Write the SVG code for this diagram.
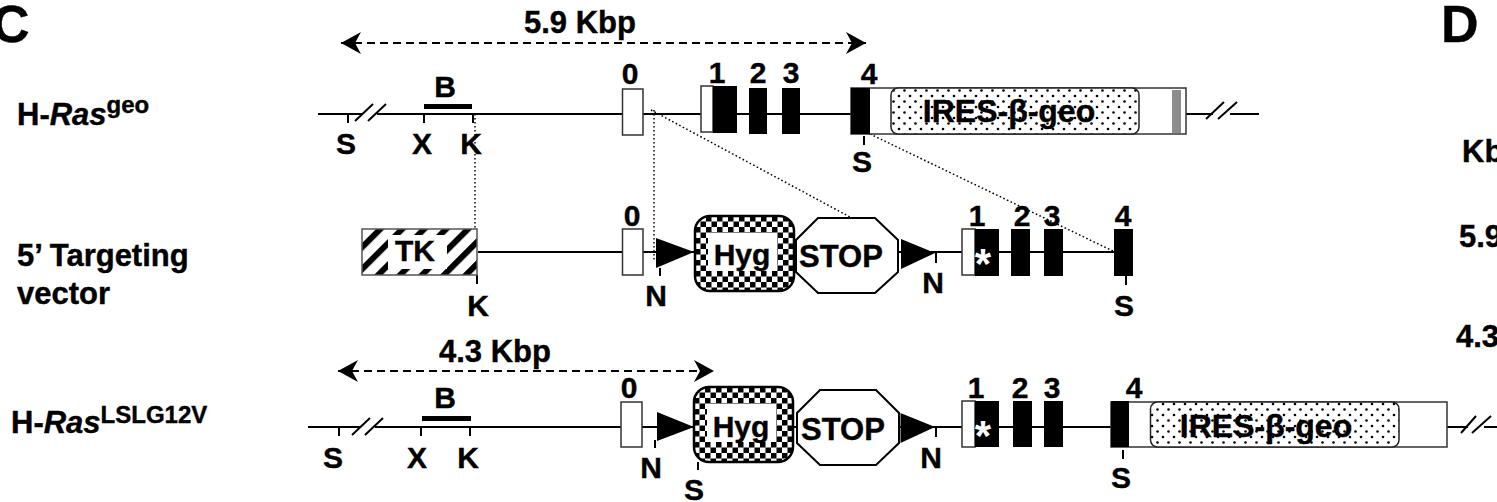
<svg xmlns="http://www.w3.org/2000/svg" width="1497" height="502" viewBox="0 0 1497 502">
<style>
text{font-family:"Liberation Sans",Arial,sans-serif;font-weight:700;fill:#000;font-size:30px;stroke:#000;stroke-width:.4}
.m{text-anchor:middle}
.big{font-size:52px}
.l{font-size:31px}
.ir{font-size:32px}
.sup{font-size:24px}
.it{font-style:italic}
text.star{fill:#fff;stroke:none;font-size:42px;text-anchor:middle}
.ln{stroke:#000;stroke-width:2;fill:none}
.dot{stroke:#000;stroke-width:1.5;stroke-dasharray:1.6 2.4;fill:none}
.dash{stroke:#000;stroke-width:2;stroke-dasharray:8 5;fill:none;marker-start:url(#ah);marker-end:url(#ah)}
.wb{fill:#fff;stroke:#333;stroke-width:1.5}
.ex{fill:#000}
.oct{fill:#fff;stroke:#000;stroke-width:2}
.hygo{fill:url(#chk);stroke:#000;stroke-width:2.5}
.ires{fill:url(#dots);stroke:#222;stroke-width:1.5}
</style>
<defs>
<pattern id="chk" patternUnits="userSpaceOnUse" width="11" height="11"><rect width="11" height="11" fill="#fff"/><rect width="5.5" height="5.5" fill="#000"/><rect x="5.5" y="5.5" width="5.5" height="5.5" fill="#000"/></pattern>
<pattern id="dots" patternUnits="userSpaceOnUse" width="11" height="11"><rect width="11" height="11" fill="#fff"/><circle cx="2.5" cy="2.5" r="1.3" fill="#000"/><circle cx="8" cy="8" r="1.3" fill="#000"/></pattern>
<pattern id="hatch" patternUnits="userSpaceOnUse" width="15.500" height="15.500" patternTransform="rotate(45 362 229)"><rect width="15.500" height="15.500" fill="#fff"/><rect width="6" height="15.500" fill="#000"/></pattern>
<marker id="ah" markerUnits="userSpaceOnUse" markerWidth="22" markerHeight="24" refX="20" refY="11" orient="auto-start-reverse"><path d="M0,0L20,11L0,22L6,11Z" fill="#000"/></marker>
</defs>

<g id="connectors">
<path class="ln" d="M318,114H363M377,114H622M643,114H701M737,114H749M767,114H782M800,114H851M1186,114H1213M1230,114H1259"/>
<path class="ln" d="M355,121L373,104M368,121L386,104M1206,119L1224,102M1218,119L1237,102"/>
<path class="ln" d="M348,114V123M424,114V123M473,114V123M864,136V145"/>
<path class="ln" d="M478,252H622M643,252H796M898,252H962M1063,252H1114M999,252H1011M1030,252H1044"/>
<path class="ln" d="M477,275V284M660,268V276M936,253V263M1126,276V285"/>
<path class="ln" d="M308,427H360M375,427H621M642,427H694M793,427H797M899,427H962M999,427H1013M1032,427H1044M1063,427H1111M1447,427H1468M1484,427H1497"/>
<path class="ln" d="M352,435L370,418M365,435L383,418M1461,433L1476,416M1472,433L1491,416"/>
<path class="ln" d="M339,427V436M421,427V436M470,427V436M655,440V448M698,462V470M936,428V437M1123,450V459"/>
<path d="M424,106.500H472M422,418.500H471" stroke="#000" stroke-width="5" fill="none"/>
<path class="dot" d="M475,114V229M654,110V262M651,110L850,217M870,134L1115,252"/>
<path class="dash" d="M341,43H866"/>
<path class="dash" d="M338,371H714"/>
</g>

<g id="panel-labels">
<text class="big" x="-8" y="42">C</text>
<text class="big" x="1441" y="42">D</text>
<text x="1462" y="162" class="l">Kb</text>
<text x="1459" y="247" class="l">5.9</text>
<text x="1456" y="347" class="l">4.3</text>
</g>

<g id="row-labels">
<text x="17" y="125" class="l">H-<tspan class="it">Ras</tspan><tspan class="sup" dy="-12">geo</tspan></text>
<text x="17" y="266" class="l">5’ Targeting</text>
<text x="17" y="304" class="l">vector</text>
<text x="11" y="433" class="l">H-<tspan class="it">Ras</tspan><tspan class="sup" dy="-10">LSLG12V</tspan></text>
</g>

<g id="size-5-9"><text class="m l" x="580" y="33">5.9 Kbp</text></g>
<g id="size-4-3"><text class="m l" x="495" y="362">4.3 Kbp</text></g>

<g id="geo-allele">
<text class="m" x="445" y="97">B</text>
<text class="m" x="346" y="154">S</text>
<text class="m" x="422" y="154">X</text>
<text class="m" x="471" y="154">K</text>
<rect class="wb" x="622.500" y="89" width="20.500" height="46"/>
<text class="m" x="630" y="84">0</text>
<rect class="wb" x="701" y="86" width="12" height="46"/>
<rect class="ex" x="713" y="86" width="24" height="47"/>
<rect class="ex" x="749" y="88" width="18" height="46"/>
<rect class="ex" x="782" y="88" width="18" height="46"/>
<text class="m" x="717" y="83">1</text>
<text class="m" x="758" y="83">2</text>
<text class="m" x="791" y="83">3</text>
<text class="m" x="869" y="84">4</text>
<rect class="wb" x="851" y="88" width="335" height="46"/>
<rect class="ex" x="851" y="88" width="19" height="46"/>
<rect class="ires" x="891" y="88" width="248" height="46" rx="7"/>
<rect x="1172" y="90" width="9" height="43" fill="#8c8c8c"/>
<text class="m ir" x="1009" y="122">IRES-β-geo</text>
<text class="m" x="862" y="172">S</text>
</g>

<g id="targeting-vector">
<rect x="362" y="229" width="115" height="46" fill="url(#hatch)" stroke="#555" stroke-width="1.500"/>
<rect x="388" y="235" width="59" height="34" fill="#fff"/>
<text class="m" x="415" y="261">TK</text>
<text class="m" x="478" y="316">K</text>
<rect class="wb" x="622.500" y="229" width="20.500" height="46"/>
<text class="m" x="632" y="226">0</text>
<path d="M656,238L694,252L656,268Z" fill="#000"/>
<text class="m" x="656" y="306">N</text>
<g transform="translate(695,216)">
<rect class="hygo" width="99" height="75" rx="15"/>
<rect x="13" y="17" width="69" height="38" fill="#fff"/>
<text class="m" x="47" y="49">Hyg</text>
</g>
<path class="oct" d="M818,218H875L898,240V272L875,293H818L796,272V240Z"/>
<text x="799" y="267" class="l">STOP</text>
<path d="M901,239L935,253L901,269Z" fill="#000"/>
<text class="m" x="933" y="293">N</text>
<rect class="wb" x="962" y="229" width="13" height="46"/>
<rect class="ex" x="975" y="229" width="24" height="47"/>
<text class="star" x="983" y="278">*</text>
<rect class="ex" x="1011" y="229" width="19" height="47"/>
<rect class="ex" x="1044" y="229" width="19" height="47"/>
<rect class="ex" x="1114" y="229" width="19" height="47"/>
<text class="m" x="977" y="226">1</text>
<text class="m" x="1022" y="226">2</text>
<text class="m" x="1052" y="226">3</text>
<text class="m" x="1123" y="226">4</text>
<text class="m" x="1124" y="316">S</text>
</g>

<g id="lsl-allele">
<text class="m" x="445" y="408">B</text>
<text class="m" x="333" y="468">S</text>
<text class="m" x="417" y="468">X</text>
<text class="m" x="468" y="468">K</text>
<rect class="wb" x="621" y="402" width="21" height="45"/>
<text class="m" x="629" y="398">0</text>
<path d="M657,412L694,427L657,441Z" fill="#000"/>
<text class="m" x="651" y="478">N</text>
<text class="m" x="694" y="500">S</text>
<g transform="translate(694,387)">
<rect class="hygo" width="99" height="75" rx="15"/>
<rect x="13" y="17" width="69" height="38" fill="#fff"/>
<text class="m" x="47" y="50">Hyg</text>
</g>
<path class="oct" d="M820,390H876L899,413V443L876,465H820L797,443V413Z"/>
<text x="801" y="440" class="l">STOP</text>
<path d="M900.500,413L935,427L900.500,443Z" fill="#000"/>
<text class="m" x="931" y="468">N</text>
<rect class="wb" x="962" y="401" width="13" height="46"/>
<rect class="ex" x="975" y="401" width="24" height="46"/>
<text class="star" x="983" y="450">*</text>
<rect class="ex" x="1013" y="401" width="19" height="46"/>
<rect class="ex" x="1044" y="401" width="19" height="46"/>
<text class="m" x="976" y="398">1</text>
<text class="m" x="1020" y="398">2</text>
<text class="m" x="1052" y="398">3</text>
<text class="m" x="1134" y="398">4</text>
<rect class="wb" x="1111" y="402" width="336" height="45"/>
<rect class="ex" x="1111" y="401" width="18" height="46"/>
<rect class="ires" x="1150.500" y="402" width="248.500" height="45" rx="7"/>
<text class="m ir" x="1266" y="437">IRES-β-geo</text>
<text class="m" x="1121" y="488">S</text>
</g>
</svg>
